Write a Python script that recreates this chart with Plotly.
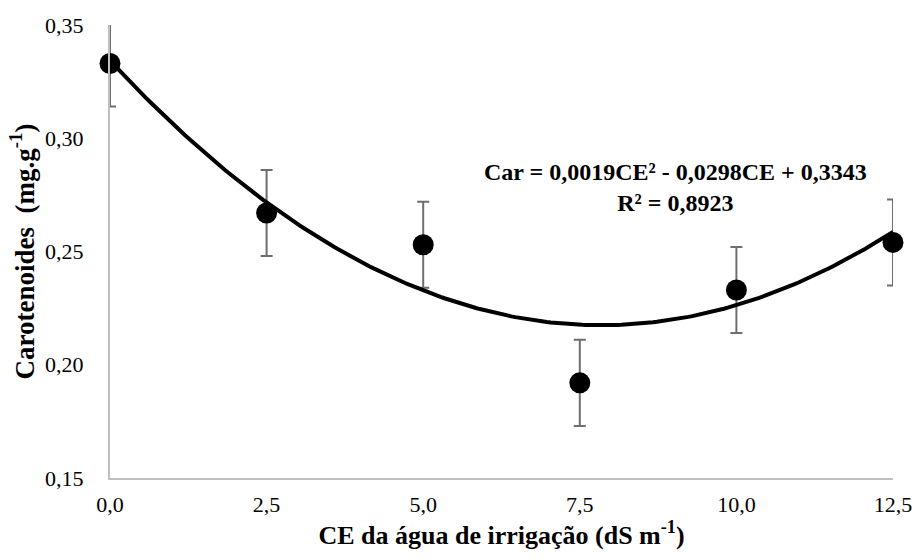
import numpy as np
import plotly.graph_objects as go

# Data
ce_levels = [0.0, 2.5, 5.0, 7.5, 10.0, 12.5]
carotenoids = [0.333, 0.267, 0.253, 0.192, 0.233, 0.254]
errors = [0.019, 0.019, 0.019, 0.019, 0.019, 0.019]
# Quadratic trendline coefficients printed on the chart
coef_a, coef_b, coef_c = 0.0019, -0.0298, 0.3343
x_ticks = [0.0, 2.5, 5.0, 7.5, 10.0, 12.5]
x_tick_labels = ["0,0", "2,5", "5,0", "7,5", "10,0", "12,5"]
y_ticks = [0.15, 0.20, 0.25, 0.30, 0.35]
y_tick_labels = ["0,15", "0,20", "0,25", "0,30", "0,35"]
equation_text = "<b>Car = 0,0019CE² - 0,0298CE + 0,3343<br>R² = 0,8923</b>"

FONT = '"Liberation Serif", "Times New Roman", Times, serif'

xs = np.linspace(min(ce_levels), max(ce_levels), 200)
ys = coef_a * xs**2 + coef_b * xs + coef_c

fig = go.Figure()

# error bars (clipped to plot area)
fig.add_trace(go.Scatter(
    x=ce_levels, y=carotenoids, mode="markers",
    marker=dict(size=1, color="rgba(0,0,0,0)"),
    error_y=dict(type="data", array=errors, visible=True,
                 color="#6e6e6e", thickness=2, width=6),
    cliponaxis=True, showlegend=False, hoverinfo="skip",
))

# trendline
fig.add_trace(go.Scatter(
    x=xs, y=ys, mode="lines",
    line=dict(color="black", width=4),
    showlegend=False, cliponaxis=False,
))

# points
fig.add_trace(go.Scatter(
    x=ce_levels, y=carotenoids, mode="markers",
    marker=dict(size=21, color="black"),
    showlegend=False, cliponaxis=False,
))

fig.add_annotation(
    x=(675 - 110) / (914 - 110 - 21), xref="paper", xanchor="center",
    y=0.2783, yref="y", yanchor="middle",
    text=equation_text, showarrow=False,
    font=dict(family=FONT, size=24, color="black"),
    align="center",
)

fig.update_layout(
    width=914, height=559,
    margin=dict(l=110, r=21, t=25, b=81),
    paper_bgcolor="white", plot_bgcolor="white",
    font=dict(family=FONT, color="black"),
)
fig.update_xaxes(
    range=[0, 12.5], tickvals=x_ticks, ticktext=x_tick_labels,
    showgrid=False, zeroline=False, automargin=False,
    showline=True, linecolor="#bfbfbf", linewidth=2,
    ticks="", ticklabelstandoff=6,
    tickfont=dict(family=FONT, size=22, color="black"),
    title=dict(text="<b>CE da água de irrigação (dS m<sup>-1</sup>)</b>",
               font=dict(family=FONT, size=26, color="black"), standoff=8),
)
fig.update_yaxes(
    range=[0.15, 0.35], tickvals=y_ticks, ticktext=y_tick_labels,
    showgrid=False, zeroline=False, automargin=False,
    showline=True, linecolor="#bfbfbf", linewidth=2,
    ticks="", ticklabelstandoff=20,
    tickfont=dict(family=FONT, size=22, color="black"),
    title=dict(text="<b>Carotenoides  (mg.g<sup>-1</sup>)</b>",
               font=dict(family=FONT, size=27, color="black"), standoff=3),
)

fig.write_html("out.html")
